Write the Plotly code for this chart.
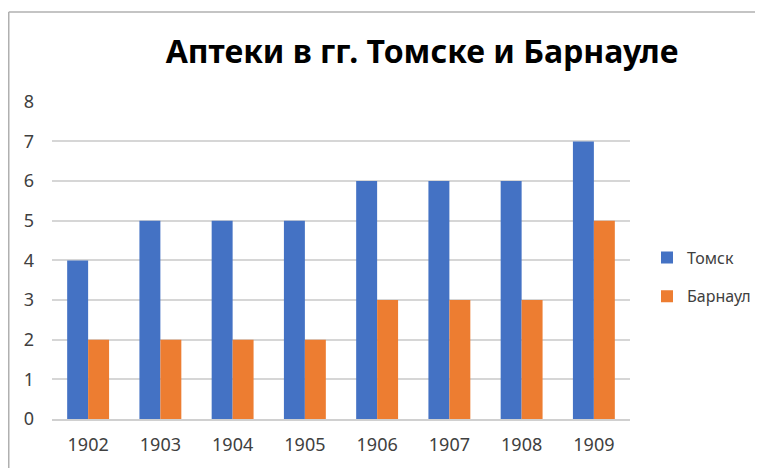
import plotly.graph_objects as go

years = ["1902", "1903", "1904", "1905", "1906", "1907", "1908", "1909"]
tomsk = [4, 5, 5, 5, 6, 6, 6, 7]
barnaul = [2, 2, 2, 2, 3, 3, 3, 5]

# page body adds an 8px margin, so the figure is 8px smaller than the window
W, H = 755, 460
ML, MR, MT, MB = 44, 133, 93, 49

fig = go.Figure()
fig.add_trace(go.Bar(x=years, y=tomsk, name="Томск", legendgroup="t",
                     marker=dict(color="#4472C4", line_width=0)))
fig.add_trace(go.Bar(x=years, y=barnaul, name="Барнаул", legendgroup="b",
                     marker=dict(color="#ED7D31", line_width=0)))

pw = W - ML - MR
ph = H - MT - MB
# frame of the chart object (only top and left edges show in the crop)
top = (H - MB - 4) / ph
left = (0.75 - ML) / pw
fig.add_shape(type="line", xref="paper", yref="paper",
              x0=left, x1=(W - ML) / pw, y0=top, y1=top,
              line=dict(color="#b0b0b0", width=1.5))
fig.add_shape(type="line", xref="paper", yref="paper",
              x0=left, x1=left, y0=top, y1=-MB / ph,
              line=dict(color="#b0b0b0", width=1.5))

fig.update_layout(
    width=W, height=H,
    # legend sits in the right margin; keep plotly from widening the margin
    margin=dict(l=ML, r=MR, t=MT, b=MB, autoexpand=False),
    paper_bgcolor="white", plot_bgcolor="white",
    font=dict(family="Noto Sans", size=18, color="#404040"),
    title=dict(text="<b>Аптеки в гг. Томске и Барнауле</b>",
               font=dict(family="Noto Sans", size=32, color="#000000"),
               x=414 / W, xanchor="center", y=1 - 44 / H, yanchor="middle"),
    barmode="group", bargap=0.42, bargroupgap=0,
    xaxis=dict(showline=True, linecolor="#d0d0d0", linewidth=1.5, ticks="",
               ticklabelstandoff=9, tickfont=dict(size=18, color="#404040")),
    yaxis=dict(range=[0, 8.02], dtick=1, showgrid=True, gridcolor="#d6d6d6", gridwidth=1.5,
               zeroline=False, showline=False, ticks="", ticklabelstandoff=17,
               tickfont=dict(size=18, color="#404040")),
    legend=dict(x=(639 - ML) / pw, xanchor="left", y=(H - MB - 269) / ph, yanchor="middle",
                font=dict(size=16, color="#404040"), itemwidth=30,
                traceorder="grouped", tracegroupgap=15, bgcolor="rgba(0,0,0,0)"),
    showlegend=True,
)

fig.write_html("out.html")
